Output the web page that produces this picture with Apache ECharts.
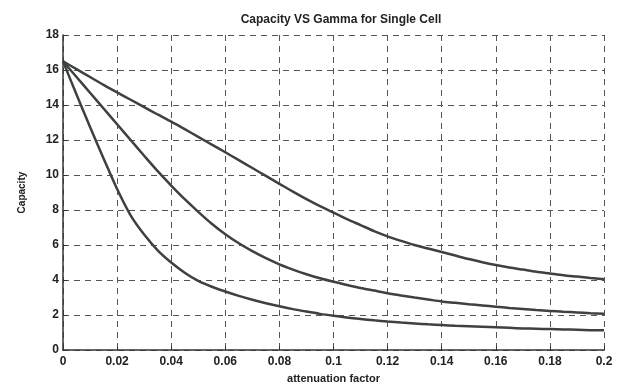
<!DOCTYPE html>
<html lang="en">
<head>
	<meta charset="UTF-8">
	<title>Capacity VS Gamma for Single Cell</title>
	<script src="https://cdn.jsdelivr.net/npm/echarts@6/dist/echarts.min.js"></script>
	<style>
		html, body { margin: 0; padding: 0; background: #fff; }
		#chart { width: 628px; height: 389px; }
	</style>
</head>
<body>
	<div id="chart"></div>
	<script>
		// attenuation factor (x), step 0.005
		var xs = [0, 0.005, 0.01, 0.015, 0.02, 0.025, 0.03, 0.035, 0.04, 0.045, 0.05, 0.055, 0.06, 0.065, 0.07,
			0.075, 0.08, 0.085, 0.09, 0.095, 0.1, 0.105, 0.11, 0.115, 0.12, 0.125, 0.13, 0.135, 0.14,
			0.145, 0.15, 0.155, 0.16, 0.165, 0.17, 0.175, 0.18, 0.185, 0.19, 0.195, 0.2];
		// capacity, three curves
		var capTop = [16.5, 16.05, 15.6, 15.15, 14.72, 14.3, 13.88, 13.46, 13.05, 12.62, 12.18, 11.74, 11.3, 10.85, 10.4,
			9.95, 9.5, 9.05, 8.62, 8.22, 7.85, 7.48, 7.14, 6.8, 6.5, 6.24, 6.0, 5.8, 5.6,
			5.4, 5.2, 5.02, 4.86, 4.72, 4.6, 4.48, 4.38, 4.28, 4.2, 4.12, 4.05];
		var capMid = [16.5, 15.6, 14.7, 13.8, 12.9, 12.0, 11.1, 10.22, 9.4, 8.62, 7.9, 7.22, 6.62, 6.1, 5.65,
			5.25, 4.9, 4.6, 4.33, 4.1, 3.9, 3.72, 3.55, 3.4, 3.25, 3.12, 3.0, 2.89, 2.78,
			2.7, 2.62, 2.55, 2.48, 2.41, 2.35, 2.29, 2.24, 2.19, 2.15, 2.11, 2.08];
		var capLow = [16.5, 14.6, 12.75, 10.95, 9.2, 7.7, 6.6, 5.7, 5.0, 4.42, 3.95, 3.62, 3.35, 3.1, 2.88,
			2.68, 2.5, 2.34, 2.2, 2.07, 1.96, 1.86, 1.78, 1.7, 1.63, 1.57, 1.52, 1.47, 1.43,
			1.39, 1.36, 1.33, 1.3, 1.27, 1.24, 1.22, 1.2, 1.18, 1.16, 1.14, 1.13];
		// tick labels
		var xTicks = ['0', '0.02', '0.04', '0.06', '0.08', '0.1', '0.12', '0.14', '0.16', '0.18', '0.2'];
		var yTicks = ['0', '2', '4', '6', '8', '10', '12', '14', '16', '18'];

		function pairs(ys) {
			return xs.map(function (x, i) { return [x, ys[i]]; });
		}

		var lineColor = '#3c423d';
		var gridLine = { show: true, lineStyle: { color: '#555', type: [6, 5], width: 1 } };
		var font = 'Liberation Sans, Arial, sans-serif';

		var myChart = echarts.init(document.getElementById('chart'));
		var option = {
			animation: false,
			backgroundColor: '#fff',
			title: {
				text: 'Capacity VS Gamma for Single Cell',
				left: 336, top: 9, textAlign: 'center',
				textStyle: { fontFamily: font, fontSize: 12, fontWeight: 'bold', color: '#222' }
			},
			grid: { left: 63, right: 24, top: 35, bottom: 29 },
			xAxis: {
				type: 'value', min: 0, max: 0.2, interval: 0.02,
				name: 'attenuation factor', nameLocation: 'middle', nameGap: 22,
				nameTextStyle: { fontFamily: font, fontSize: 11, fontWeight: 'bold', color: '#222' },
				axisLine: { lineStyle: { color: '#333', width: 1.5 } },
				axisTick: { inside: true, length: 4, lineStyle: { color: '#333' } },
				axisLabel: {
					fontFamily: font, fontSize: 12, fontWeight: 'bold', color: '#222', margin: 6,
					formatter: function (v) { return xTicks[Math.round(v / 0.02)]; }
				},
				splitLine: gridLine
			},
			yAxis: {
				type: 'value', min: 0, max: 18, interval: 2,
				name: 'Capacity', nameLocation: 'middle', nameGap: 36,
				nameTextStyle: { fontFamily: font, fontSize: 10, fontWeight: 'bold', color: '#222' },
				axisLine: { show: true, lineStyle: { color: '#333', width: 1.5 } },
				axisTick: { show: true, inside: true, length: 4, lineStyle: { color: '#333' } },
				axisLabel: {
					fontFamily: font, fontSize: 12, fontWeight: 'bold', color: '#222', margin: 4,
					formatter: function (v) { return yTicks[Math.round(v / 2)]; }
				},
				splitLine: gridLine
			},
			series: [
				{ type: 'line', data: pairs(capTop), smooth: 0.3, showSymbol: false, lineStyle: { color: lineColor, width: 2.5 } },
				{ type: 'line', data: pairs(capMid), smooth: 0.3, showSymbol: false, lineStyle: { color: lineColor, width: 2.5 } },
				{ type: 'line', data: pairs(capLow), smooth: 0.3, showSymbol: false, lineStyle: { color: lineColor, width: 2.5 } }
			]
		};
		myChart.setOption(option);
	</script>
</body>
</html>
